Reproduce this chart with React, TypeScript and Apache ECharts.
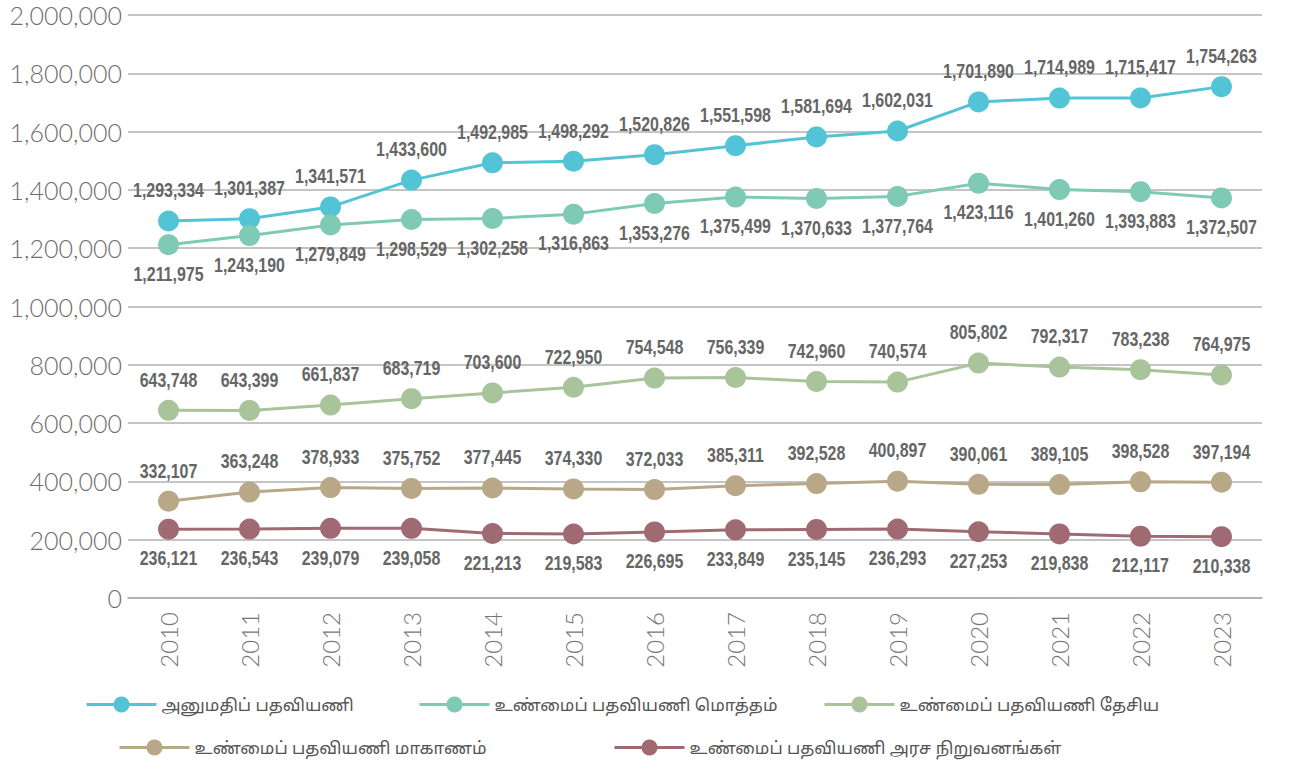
import React, { useEffect, useRef } from "react";
import * as echarts from "echarts";

const years = ["2010", "2011", "2012", "2013", "2014", "2015", "2016", "2017", "2018", "2019", "2020", "2021", "2022", "2023"];

const seriesNames = [
  "அனுமதிப் பதவியணி",
  "உண்மைப் பதவியணி மொத்தம்",
  "உண்மைப் பதவியணி தேசிய",
  "உண்மைப் பதவியணி மாகாணம்",
  "உண்மைப் பதவியணி அரச நிறுவனங்கள்",
];

const approved = [1293334, 1301387, 1341571, 1433600, 1492985, 1498292, 1520826, 1551598, 1581694, 1602031, 1701890, 1714989, 1715417, 1754263];
const actualTotal = [1211975, 1243190, 1279849, 1298529, 1302258, 1316863, 1353276, 1375499, 1370633, 1377764, 1423116, 1401260, 1393883, 1372507];
const actualNational = [643748, 643399, 661837, 683719, 703600, 722950, 754548, 756339, 742960, 740574, 805802, 792317, 783238, 764975];
const actualProvincial = [332107, 363248, 378933, 375752, 377445, 374330, 372033, 385311, 392528, 400897, 390061, 389105, 398528, 397194];
const actualInstitutions = [236121, 236543, 239079, 239058, 221213, 219583, 226695, 233849, 235145, 236293, 227253, 219838, 212117, 210338];

const colors = ["#52C4D5", "#7ECAB5", "#A9C39A", "#B8A887", "#A06A72"];
const labelAbove = [true, false, true, true, false];

const fmt = (v: number) => v.toLocaleString("en-US");

export default function App() {
  const ref = useRef<HTMLDivElement>(null);
  useEffect(() => {
    if (!ref.current) return;
    const chart = echarts.init(ref.current, null, { renderer: "svg" });
    const data = [approved, actualTotal, actualNational, actualProvincial, actualInstitutions];
    const legendPos = [
      { left: 80, top: 691 },
      { left: 413, top: 691 },
      { left: 818, top: 691 },
      { left: 113, top: 734 },
      { left: 608, top: 734 },
    ];
    const lineSeries = seriesNames.map((n, i) => ({
      name: n,
      type: "line",
      data: data[i],
      symbol: "circle",
      symbolSize: 21,
      color: colors[i],
      lineStyle: { width: 3, color: colors[i] },
      itemStyle: { color: colors[i] },
      z: 2,
    }));
    const labelSeries = seriesNames.map((n, i) => ({
      name: n + " labels",
      type: "custom",
      data: data[i].map((v, j) => [j, v]),
      z: 5,
      silent: true,
      renderItem: (params: any, api: any) => {
        const pt = api.coord([api.value(0), api.value(1)]);
        return {
          type: "text",
          x: pt[0],
          y: pt[1] + (labelAbove[i] ? -31 : 29),
          scaleX: 0.76,
          style: {
            text: fmt(api.value(1)),
            x: 0,
            y: 0,
            align: "center",
            verticalAlign: "middle",
            fontSize: 21,
            fontWeight: "bold",
            fontFamily: "'Liberation Sans', Arial, sans-serif",
            fill: "#666666",
          },
        };
      },
    }));
    chart.setOption({
      animation: false,
      legend: seriesNames.map((n, i) => ({
        data: [n],
        left: legendPos[i].left,
        top: legendPos[i].top,
        itemWidth: 70,
        itemHeight: 20,
        itemGap: 10,
        lineStyle: { width: 3 },
        textStyle: { fontSize: 17, color: "#555", fontFamily: "'Noto Sans', 'Noto Sans Tamil', sans-serif" },
      })),
      grid: { left: 128, right: 27, top: 15, bottom: 169, containLabel: false },
      xAxis: {
        type: "category",
        data: years,
        boundaryGap: true,
        axisLine: { lineStyle: { color: "#aaa", width: 1.5 } },
        axisTick: { alignWithLabel: true, length: 8, lineStyle: { color: "#999", width: 1.5 } },
        axisLabel: { rotate: 90, margin: 14, fontSize: 24, color: "#777", fontFamily: "Lato, 'Open Sans', sans-serif", fontWeight: 300 },
      },
      yAxis: {
        type: "value",
        min: 0,
        max: 2000000,
        interval: 200000,
        axisLine: { show: false },
        axisTick: { show: false },
        splitLine: { lineStyle: { color: "#b0b0b0", width: 1.5 } },
        axisLabel: { formatter: (v: number) => fmt(v), fontSize: 25, color: "#6e6e6e", margin: 6, fontFamily: "Lato, 'Open Sans', sans-serif", fontWeight: 300 },
      },
      series: [...lineSeries, ...labelSeries],
    });
    return () => chart.dispose();
  }, []);
  return <div ref={ref} style={{ width: 1289, height: 767, position: "absolute", left: 0, top: 0 }} />;
}
